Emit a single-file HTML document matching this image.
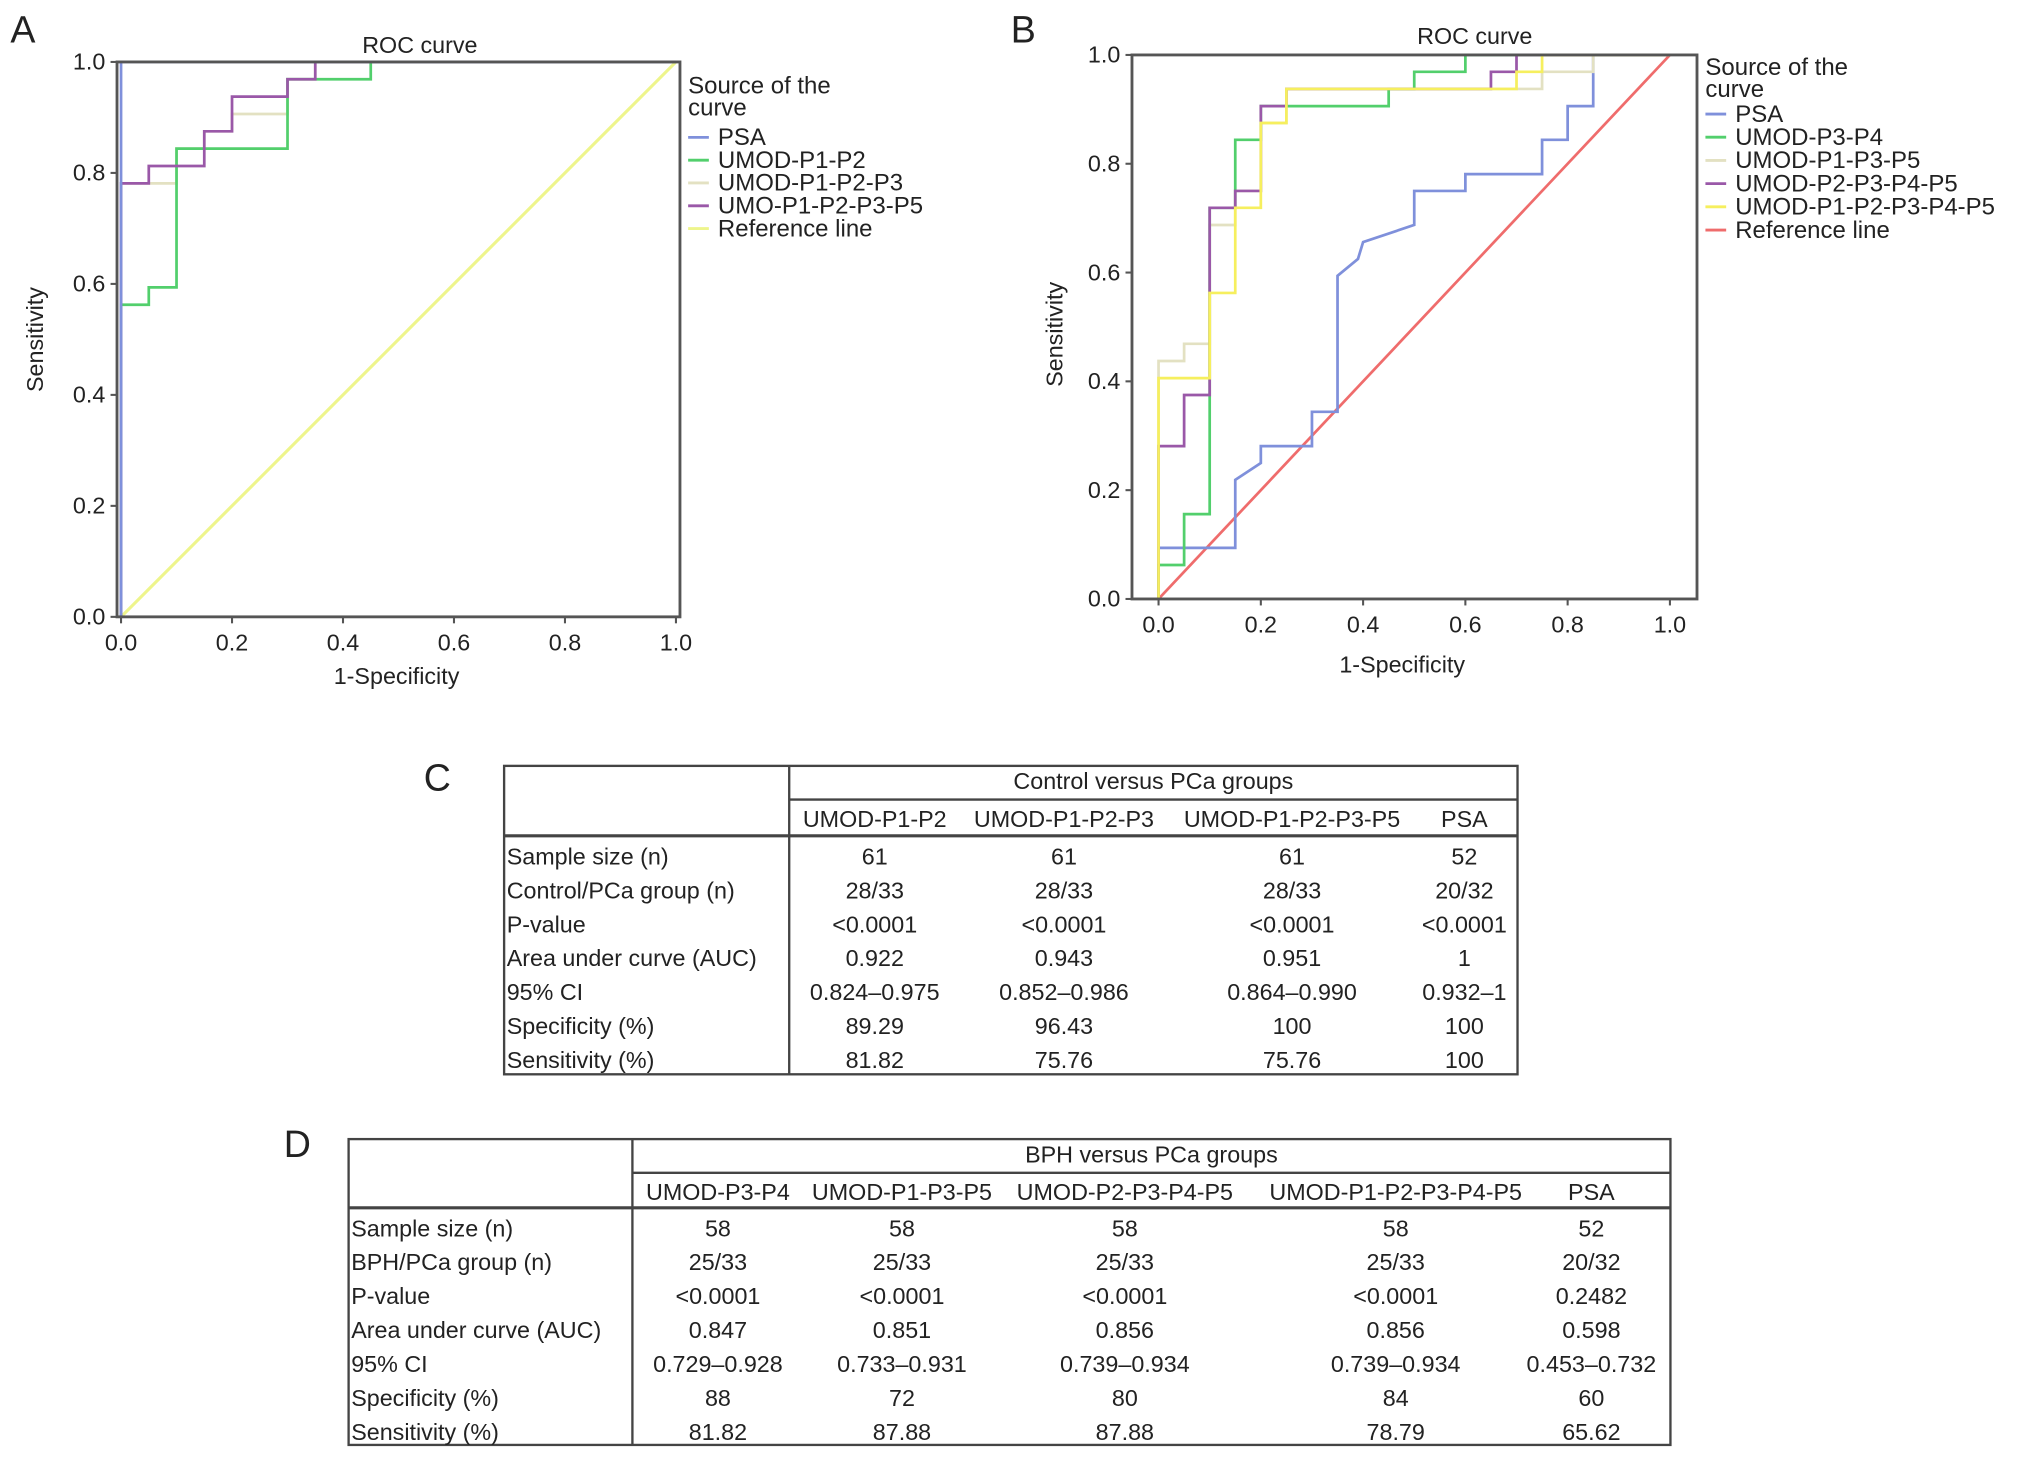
<!DOCTYPE html>
<html><head><meta charset="utf-8"><style>
html,body{margin:0;padding:0;background:#fff;}
svg{display:block;font-family:"Liberation Sans",Arial,sans-serif;}
</style></head><body>
<svg id="fig" width="2032" height="1461" viewBox="0 0 1568 1127.4" preserveAspectRatio="none" xmlns="http://www.w3.org/2000/svg">
<text x="8" y="33" font-size="29" fill="#222">A</text>
<text x="780" y="33" font-size="29" fill="#222">B</text>
<text x="327" y="610" font-size="29" fill="#222">C</text>
<text x="219" y="893" font-size="29" fill="#222">D</text>
<g id="chartA"></g>
<g id="chartB"></g>
<g id="tableC"></g>
<g id="tableD"></g>
</svg>
<script>
// Chart A data
const aTicks = ["0.0","0.2","0.4","0.6","0.8","1.0"];
const aNames = ["PSA","UMOD-P1-P2","UMOD-P1-P2-P3","UMO-P1-P2-P3-P5","Reference line"];
const aPSA_x = [0,0,1];
const aPSA_y = [0,1,1];
const aP12_x = [0,0,0.05,0.05,0.1,0.1,0.3,0.3,0.45,0.45,1];
const aP12_y = [0,0.5625,0.5625,0.59375,0.59375,0.84375,0.84375,0.96875,0.96875,1,1];
const aP123_x = [0,0,0.1,0.1,0.15,0.15,0.2,0.2,0.3,0.3,0.35,0.35,1];
const aP123_y = [0,0.78125,0.78125,0.84375,0.84375,0.875,0.875,0.90625,0.90625,0.96875,0.96875,1,1];
const aP1235_x = [0,0,0.05,0.05,0.15,0.15,0.2,0.2,0.3,0.3,0.35,0.35,1];
const aP1235_y = [0,0.78125,0.78125,0.8125,0.8125,0.875,0.875,0.9375,0.9375,0.96875,0.96875,1,1];
const aRef_x = [0,1];
const aRef_y = [0,1];
// Chart B data
const bNames = ["PSA","UMOD-P3-P4","UMOD-P1-P3-P5","UMOD-P2-P3-P4-P5","UMOD-P1-P2-P3-P4-P5","Reference line"];
const bPSA_x = [0,0,0.15,0.15,0.2,0.2,0.3,0.3,0.35,0.35,0.39,0.4,0.5,0.5,0.6,0.6,0.75,0.75,0.8,0.8,0.85,0.85,1];
const bPSA_y = [0,0.094,0.094,0.219,0.25,0.281,0.281,0.344,0.344,0.594,0.625,0.656,0.6875,0.75,0.75,0.781,0.781,0.844,0.844,0.906,0.906,1,1];
const bP34_x = [0,0,0.05,0.05,0.1,0.1,0.15,0.15,0.2,0.2,0.45,0.45,0.5,0.5,0.6,0.6,1];
const bP34_y = [0,0.0625,0.0625,0.156,0.156,0.719,0.719,0.844,0.844,0.906,0.906,0.9375,0.9375,0.969,0.969,1,1];
const bP135_x = [0,0,0.05,0.05,0.1,0.1,0.15,0.15,0.2,0.2,0.25,0.25,0.75,0.75,0.85,0.85,1];
const bP135_y = [0,0.4375,0.4375,0.469,0.469,0.6875,0.6875,0.75,0.75,0.875,0.875,0.9375,0.9375,0.969,0.969,1,1];
const bP2345_x = [0,0,0.05,0.05,0.1,0.1,0.15,0.15,0.2,0.2,0.25,0.25,0.65,0.65,0.7,0.7,1];
const bP2345_y = [0,0.281,0.281,0.375,0.375,0.719,0.719,0.75,0.75,0.906,0.906,0.9375,0.9375,0.969,0.969,1,1];
const bP12345_x = [0,0,0.1,0.1,0.15,0.15,0.2,0.2,0.25,0.25,0.7,0.7,0.75,0.75,1];
const bP12345_y = [0,0.406,0.406,0.5625,0.5625,0.719,0.719,0.875,0.875,0.9375,0.9375,0.969,0.969,1,1];
const bRef_x = [0,1];
const bRef_y = [0,1];

const NS="http://www.w3.org/2000/svg";
function mk(parent,tag,attrs,txt){const e=document.createElementNS(NS,tag);for(const k in attrs)e.setAttribute(k,attrs[k]);if(txt!==undefined)e.textContent=txt;parent.appendChild(e);return e;}

function drawChart(g,cfg){
  const sx=v=>cfg.x0+v*(cfg.x1-cfg.x0), sy=v=>cfg.y0-v*(cfg.y0-cfg.y1);
  const t=mk(g,'text',{x:cfg.titleX,y:cfg.titleY,'font-size':18,'text-anchor':'middle',fill:'#222'},'ROC curve');
  
  
  aTicks.forEach((lab,i)=>{
    const v=i/5;
    mk(g,'line',{x1:cfg.fl-5,x2:cfg.fl,y1:sy(v),y2:sy(v),stroke:'#555','stroke-width':1.6});
    const yl=mk(g,'text',{x:cfg.fl-9,y:sy(v)+6,'font-size':18,'text-anchor':'end',fill:'#222'},lab);
    
    
    mk(g,'line',{x1:sx(v),x2:sx(v),y1:cfg.y0,y2:cfg.y0+5,stroke:'#555','stroke-width':1.6});
    const xl=mk(g,'text',{x:sx(v),y:cfg.y0+26,'font-size':18,'text-anchor':'middle',fill:'#222'},lab);
    
    
  });
  const xt=mk(g,'text',{x:cfg.xtX,y:cfg.xtY,'font-size':18,'text-anchor':'middle',fill:'#222'},'1-Specificity');
  
  
  const yt=mk(g,'text',{x:0,y:0,'font-size':18,'text-anchor':'middle',fill:'#222',transform:`translate(${cfg.ytX},${cfg.ytY}) rotate(-90)`},'Sensitivity');
  
  
  cfg.series.forEach(s=>{
    const d=s.x.map((v,i)=>(i?'L':'M')+sx(v).toFixed(2)+' '+sy(s.y[i]).toFixed(2)).join(' ');
    const p=mk(g,'path',{d:d,fill:'none',stroke:s.c,'stroke-width':s.w||2.1});
    
    
  });
  const fr=mk(g,'rect',{x:cfg.fl,y:cfg.y1,width:cfg.fr-cfg.fl,height:cfg.y0-cfg.y1,fill:'none',stroke:'#555','stroke-width':2.2});
  
  
  const lg=mk(g,'g',{});
  
  
  mk(lg,'text',{x:cfg.lgX,y:cfg.lgY,'font-size':18.5,fill:'#222'},'Source of the');
  mk(lg,'text',{x:cfg.lgX,y:cfg.lgY+17,'font-size':18.5,fill:'#222'},'curve');
  cfg.legend.forEach((s,i)=>{
    const y=cfg.lgE+i*cfg.lgS;
    const le=mk(lg,'g',{});
    
    
    mk(le,'line',{x1:cfg.lgX,x2:cfg.lgX+16,y1:y-6,y2:y-6,stroke:s.c,'stroke-width':2.2});
    mk(le,'text',{x:cfg.lgX+23,y:y,'font-size':18.5,fill:'#222'},s.n);
  });
}
const cBlue='#7f90db',cGreen='#52cf6c',cBeige='#e3e1c2',cPurple='#9a58a8',cYelA='#eef58c',cYelB='#f6ef5e',cRed='#ef6c6c';
drawChart(document.getElementById('chartA'),{x0:93.4,x1:521.6,y0:476,y1:47.8,fl:90.3,fr:524.7,
  titleX:324,titleY:41,xtX:306,xtY:528,ytX:33,ytY:262,lgX:531,lgY:72,lgE:112,lgS:17.6,
  series:[{n:'reference-line',x:aRef_x,y:aRef_y,c:cYelA,w:2.4},{n:'umod-p1-p2-p3-curve',x:aP123_x,y:aP123_y,c:cBeige},{n:'umod-p1-p2-curve',x:aP12_x,y:aP12_y,c:cGreen},{n:'umo-p1-p2-p3-p5-curve',x:aP1235_x,y:aP1235_y,c:cPurple},{n:'psa-curve',x:aPSA_x,y:aPSA_y,c:cBlue}],
  legend:[{n:aNames[0],c:cBlue},{n:aNames[1],c:cGreen},{n:aNames[2],c:cBeige},{n:aNames[3],c:cPurple},{n:aNames[4],c:cYelA}]});
drawChart(document.getElementById('chartB'),{x0:894,x1:1288.6,y0:462.2,y1:42.4,fl:873.5,fr:1309.5,
  titleX:1138,titleY:34,xtX:1082,xtY:519,ytX:820,ytY:258,lgX:1316,lgY:58,lgE:94,lgS:17.9,
  series:[{n:'reference-line',x:bRef_x,y:bRef_y,c:cRed},{n:'psa-curve',x:bPSA_x,y:bPSA_y,c:cBlue},{n:'umod-p1-p3-p5-curve',x:bP135_x,y:bP135_y,c:cBeige},{n:'umod-p3-p4-curve',x:bP34_x,y:bP34_y,c:cGreen},{n:'umod-p2-p3-p4-p5-curve',x:bP2345_x,y:bP2345_y,c:cPurple},{n:'umod-p1-p2-p3-p4-p5-curve',x:bP12345_x,y:bP12345_y,c:cYelB}],
  legend:[{n:bNames[0],c:cBlue},{n:bNames[1],c:cGreen},{n:bNames[2],c:cBeige},{n:bNames[3],c:cPurple},{n:bNames[4],c:cYelB},{n:bNames[5],c:cRed}]});

// Tables
const cRowLabels=["Sample size (n)","Control/PCa group (n)","P-value","Area under curve (AUC)","95% CI","Specificity (%)","Sensitivity (%)"];
const cCols=["UMOD-P1-P2","UMOD-P1-P2-P3","UMOD-P1-P2-P3-P5","PSA"];
const cVals=[["61","61","61","52"],["28/33","28/33","28/33","20/32"],["<0.0001","<0.0001","<0.0001","<0.0001"],["0.922","0.943","0.951","1"],["0.824–0.975","0.852–0.986","0.864–0.990","0.932–1"],["89.29","96.43","100","100"],["81.82","75.76","75.76","100"]];
const dRowLabels=["Sample size (n)","BPH/PCa group (n)","P-value","Area under curve (AUC)","95% CI","Specificity (%)","Sensitivity (%)"];
const dCols=["UMOD-P3-P4","UMOD-P1-P3-P5","UMOD-P2-P3-P4-P5","UMOD-P1-P2-P3-P4-P5","PSA"];
const dVals=[["58","58","58","58","52"],["25/33","25/33","25/33","25/33","20/32"],["<0.0001","<0.0001","<0.0001","<0.0001","0.2482"],["0.847","0.851","0.856","0.856","0.598"],["0.729–0.928","0.733–0.931","0.739–0.934","0.739–0.934","0.453–0.732"],["88","72","80","84","60"],["81.82","87.88","87.88","78.79","65.62"]];
function drawTable(g,t){
  const fs=18;
  const box=mk(g,'rect',{x:t.l,y:t.top,width:t.r-t.l,height:t.bot-t.top,fill:'none',stroke:'#444','stroke-width':1.8});
  
  
  mk(g,'line',{x1:t.div,x2:t.div,y1:t.top,y2:t.bot,stroke:'#444','stroke-width':1.8});
  mk(g,'line',{x1:t.div,x2:t.r,y1:t.h1,y2:t.h1,stroke:'#444','stroke-width':1.8});
  mk(g,'line',{x1:t.l,x2:t.r,y1:t.h2,y2:t.h2,stroke:'#444','stroke-width':2.4});
  const ht=mk(g,'text',{x:(t.div+t.r)/2,y:t.top+18,'font-size':fs,'text-anchor':'middle',fill:'#222'},t.title);
  
  
  t.cols.forEach((c,i)=>{
    const e=mk(g,'text',{x:t.cx[i],y:t.h1+21,'font-size':fs,'text-anchor':'middle',fill:'#222'},c);
    
    
  });
  t.rows.forEach((r,j)=>{
    const y=t.r0+j*26.2;
    const e=mk(g,'text',{x:t.l+2,y:y+7,'font-size':fs,fill:'#222'},r);
    
    
    t.vals[j].forEach((v,i)=>{
      const c=mk(g,'text',{x:t.cx[i],y:y+7,'font-size':fs,'text-anchor':'middle',fill:'#222'},v);
      
      
    });
  });
}
drawTable(document.getElementById('tableC'),{l:389,r:1171,top:591,bot:829,div:609,h1:617,h2:645,title:'Control versus PCa groups',cols:cCols,cx:[675,821,997,1130],rows:cRowLabels,vals:cVals,r0:660});
drawTable(document.getElementById('tableD'),{l:269,r:1289,top:879,bot:1115,div:488,h1:905,h2:932,title:'BPH versus PCa groups',cols:dCols,cx:[554,696,868,1077,1228],rows:dRowLabels,vals:dVals,r0:947});
</script>
</body></html>
